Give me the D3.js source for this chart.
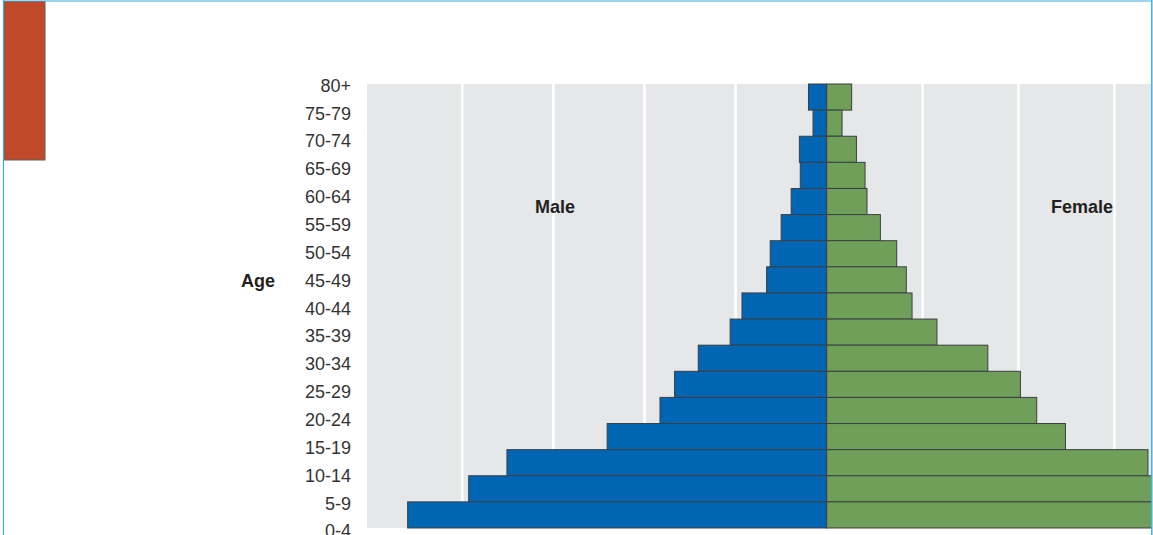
<!DOCTYPE html>
<html>
<head>
<meta charset="utf-8">
<script src="https://cdn.jsdelivr.net/npm/d3@7"></script>
<style>
  html, body { margin: 0; padding: 0; background: #fff; overflow: hidden; }
  svg { display: block; }
</style>
</head>
<body>
<svg id="chart" width="1153" height="535"></svg>
<script>
// ---- Data ----
const ageGroups = ["80+","75-79","70-74","65-69","60-64","55-59","50-54","45-49","40-44","35-39","30-34","25-29","20-24","15-19","10-14","5-9","0-4"];
const maleValues   = [0.20, 0.15, 0.30, 0.29, 0.39, 0.50, 0.62, 0.66, 0.93, 1.06, 1.41, 1.67, 1.83, 2.41, 3.51, 3.93, 4.60];
const femaleValues = [0.26, 0.16, 0.31, 0.40, 0.42, 0.56, 0.73, 0.83, 0.89, 1.15, 1.68, 2.02, 2.19, 2.49, 3.35, 3.80, 4.40];
const maleGridTicks = [1, 2, 3, 4];
const femaleGridTicks = [1, 2, 3];
const seriesNames = ["Male", "Female"];
const axisTitle = "Age";

// ---- Layout ----
const W = 1153, H = 535;
const plotLeft = 367, plotRight = 1153, plotTop = 84, plotBottom = 528;
const center = 826.7;

const svg = d3.select("#chart");

// clip to framed container
svg.append("defs").append("clipPath").attr("id", "frame")
  .append("rect").attr("x", 4).attr("y", 1).attr("width", 1147.5).attr("height", H);

const root = svg.append("g").attr("clip-path", "url(#frame)");

// scales
const xMale = d3.scaleLinear().domain([0, 5]).range([center, center - 5 * 91.1]);
const xFemale = d3.scaleLinear().domain([0, 5]).range([center, center + 5 * 95.9]);
const yBars = d3.scaleBand().domain(ageGroups).range([plotTop, plotBottom]).padding(0);
const yLabels = d3.scalePoint().domain(ageGroups).range([91.7, 91.7 + 16 * 27.86]);

// plot background
root.append("rect")
  .attr("x", plotLeft).attr("y", plotTop)
  .attr("width", plotRight - plotLeft).attr("height", plotBottom - plotTop)
  .attr("fill", "#e6e7e9");

// grid lines
root.selectAll("line.gm").data(maleGridTicks).join("line")
  .attr("class", "gm")
  .attr("x1", d => xMale(d)).attr("x2", d => xMale(d))
  .attr("y1", plotTop).attr("y2", plotBottom)
  .attr("stroke", "#ffffff").attr("stroke-width", 2.5);
root.selectAll("line.gf").data(femaleGridTicks).join("line")
  .attr("class", "gf")
  .attr("x1", d => xFemale(d)).attr("x2", d => xFemale(d))
  .attr("y1", plotTop).attr("y2", plotBottom)
  .attr("stroke", "#ffffff").attr("stroke-width", 2.5);

// bars
const rows = ageGroups.map((a, i) => ({ age: a, m: maleValues[i], f: femaleValues[i] }));
root.selectAll("rect.male").data(rows).join("rect")
  .attr("class", "male")
  .attr("x", d => xMale(d.m)).attr("y", d => yBars(d.age))
  .attr("width", d => xMale(0) - xMale(d.m)).attr("height", yBars.bandwidth())
  .attr("fill", "#0066b3").attr("stroke", "#3b3f45").attr("stroke-width", 1);
root.selectAll("rect.female").data(rows).join("rect")
  .attr("class", "female")
  .attr("x", xFemale(0)).attr("y", d => yBars(d.age))
  .attr("width", d => xFemale(d.f) - xFemale(0)).attr("height", yBars.bandwidth())
  .attr("fill", "#6f9f59").attr("stroke", "#3b3f45").attr("stroke-width", 1);

// series labels
root.append("text").attr("x", 555).attr("y", 213)
  .attr("text-anchor", "middle")
  .attr("font-family", "'Liberation Sans', Arial, sans-serif")
  .attr("font-weight", "bold").attr("font-size", 18).attr("fill", "#231f20")
  .text(seriesNames[0]);
root.append("text").attr("x", 1082).attr("y", 213)
  .attr("text-anchor", "middle")
  .attr("font-family", "'Liberation Sans', Arial, sans-serif")
  .attr("font-weight", "bold").attr("font-size", 18).attr("fill", "#231f20")
  .text(seriesNames[1]);

// age labels
root.selectAll("text.age").data(ageGroups).join("text")
  .attr("class", "age")
  .attr("x", 351).attr("y", d => yLabels(d))
  .attr("text-anchor", "end")
  .attr("font-family", "'Liberation Sans', Arial, sans-serif")
  .attr("font-size", 18).attr("fill", "#333333")
  .text(d => d);

// axis title
root.append("text").attr("x", 258).attr("y", 286.7)
  .attr("text-anchor", "middle")
  .attr("font-family", "'Liberation Sans', Arial, sans-serif")
  .attr("font-weight", "bold").attr("font-size", 18).attr("fill", "#231f20")
  .text(axisTitle);

// decorative tab
root.append("rect").attr("x", 4).attr("y", 1).attr("width", 41).attr("height", 159)
  .attr("fill", "#c0492a").attr("stroke", "#6b5a55").attr("stroke-width", 1);

// frame borders
svg.append("line").attr("x1", 3.5).attr("x2", 3.5).attr("y1", 0).attr("y2", H)
  .attr("stroke", "#3cb0e0").attr("stroke-width", 1.2);
svg.append("line").attr("x1", 3.5).attr("x2", 1152).attr("y1", 1).attr("y2", 1)
  .attr("stroke", "#3cb0e0").attr("stroke-width", 1.2);
svg.append("line").attr("x1", 1151.8).attr("x2", 1151.8).attr("y1", 0).attr("y2", H)
  .attr("stroke", "#3cb0e0").attr("stroke-width", 1.5);
</script>
</body>
</html>
